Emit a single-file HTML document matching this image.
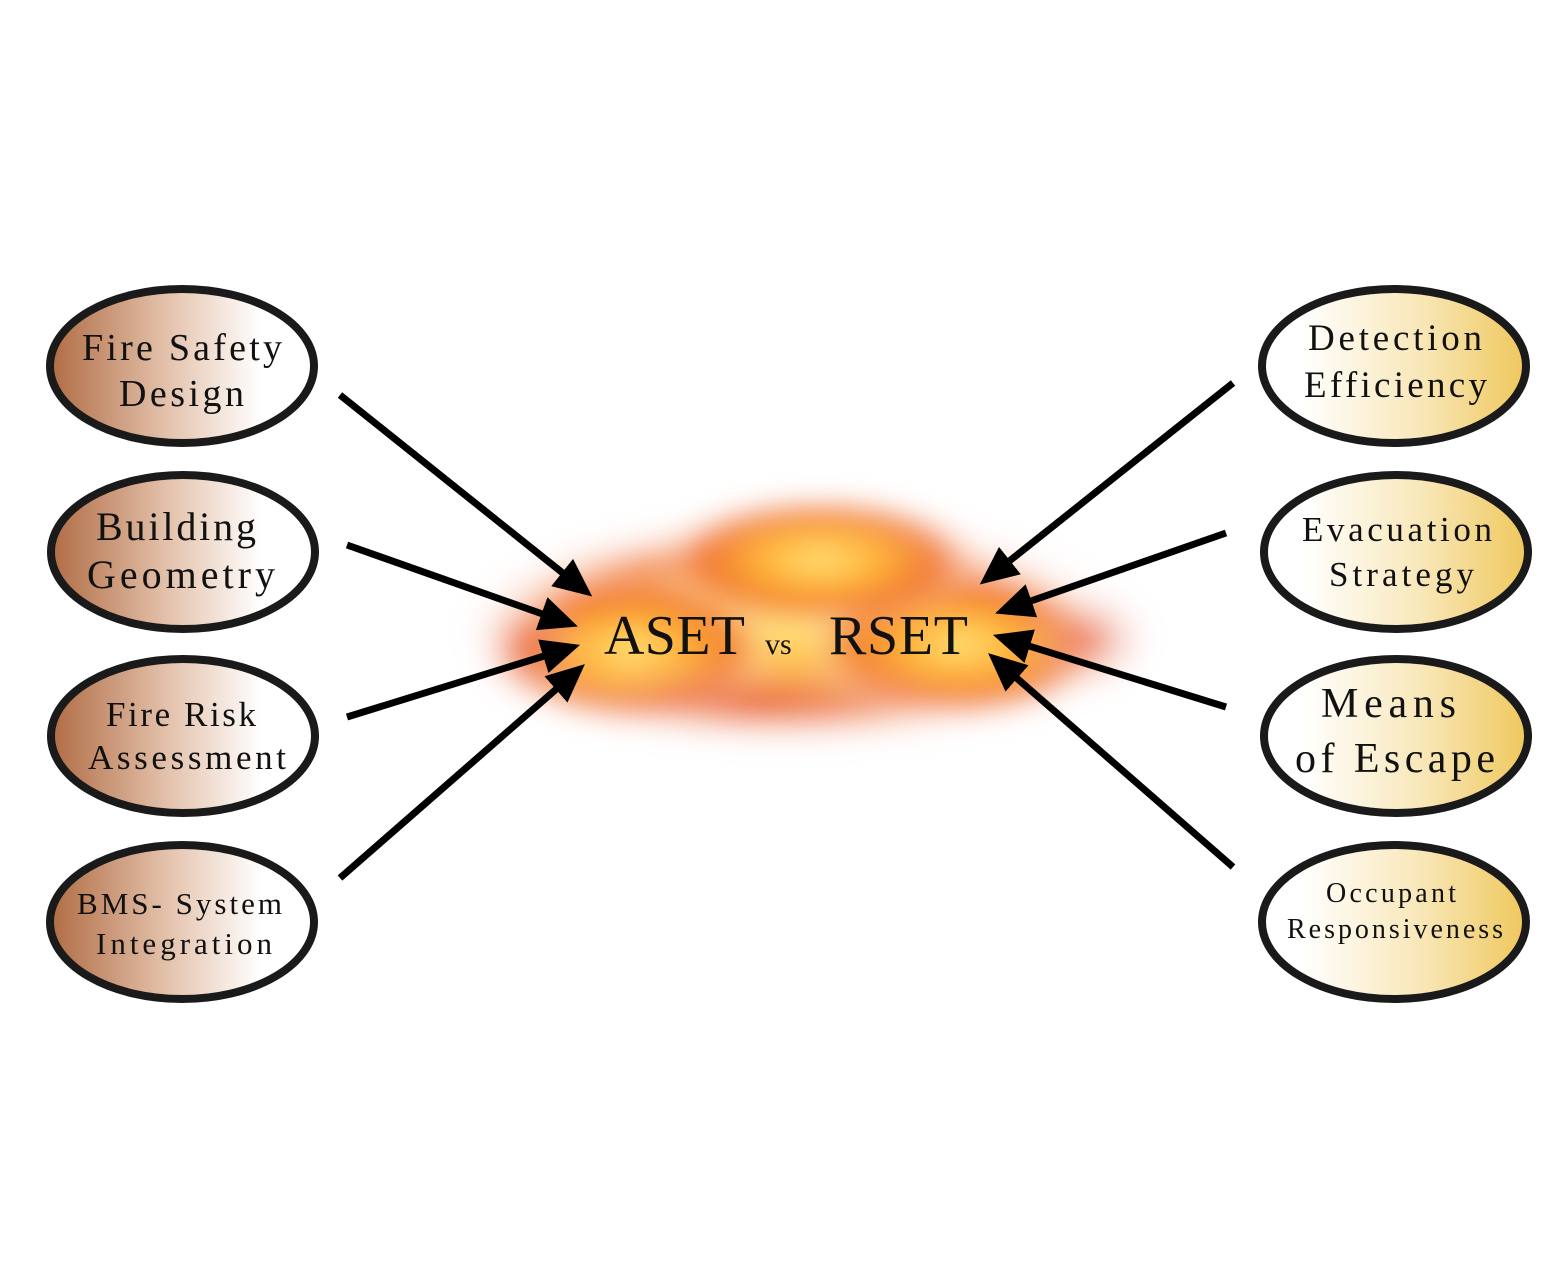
<!DOCTYPE html>
<html><head><meta charset="utf-8"><style>
html,body{margin:0;padding:0;background:#fff;}
svg{display:block;}
text{font-family:"Liberation Serif",serif;fill:#111;}
</style></head><body>
<svg width="1560" height="1280" viewBox="0 0 1560 1280">
<defs>
<linearGradient id="lg" x1="0" y1="0" x2="1" y2="0">
<stop offset="0" stop-color="#b06c44"/><stop offset="0.45" stop-color="#e4c3ad"/><stop offset="0.8" stop-color="#ffffff"/>
</linearGradient>
<linearGradient id="rg" x1="0" y1="0" x2="1" y2="0">
<stop offset="0.15" stop-color="#ffffff"/><stop offset="0.6" stop-color="#f8e7b8"/><stop offset="1" stop-color="#efc75c"/>
</linearGradient>
<radialGradient id="fire1" cx="0.5" cy="0.5" r="0.5">
<stop offset="0" stop-color="#ffe27a"/><stop offset="0.35" stop-color="#ffb43a"/><stop offset="0.7" stop-color="#f0702a" stop-opacity="0.75"/><stop offset="1" stop-color="#ffffff" stop-opacity="0"/>
</radialGradient>
<radialGradient id="fire2" cx="0.5" cy="0.5" r="0.5">
<stop offset="0" stop-color="#e24a2a" stop-opacity="0.6"/><stop offset="1" stop-color="#ffffff" stop-opacity="0"/>
</radialGradient>
<filter id="blur"><feGaussianBlur stdDeviation="12"/></filter>
<marker id="ah" markerWidth="5.5" markerHeight="5" refX="4" refY="2.5" orient="auto" markerUnits="strokeWidth">
<path d="M0,0 L5.5,2.5 L0,5 Z" fill="#000"/>
</marker>
</defs>

<g filter="url(#blur)">
<ellipse cx="800" cy="630" rx="380" ry="140" fill="url(#fire2)"/>
<ellipse cx="790" cy="630" rx="330" ry="115" fill="url(#fire1)"/>
<ellipse cx="630" cy="650" rx="150" ry="80" fill="url(#fire1)"/>
<ellipse cx="960" cy="645" rx="160" ry="80" fill="url(#fire1)"/>
<ellipse cx="820" cy="560" rx="170" ry="70" fill="url(#fire1)"/>
<ellipse cx="1090" cy="640" rx="70" ry="60" fill="url(#fire2)"/>
<ellipse cx="530" cy="650" rx="60" ry="60" fill="url(#fire2)"/>
<ellipse cx="760" cy="700" rx="220" ry="45" fill="url(#fire2)"/>
</g>

<text x="604" y="654"><tspan font-size="56" textLength="141" lengthAdjust="spacing">ASET</tspan><tspan font-size="30" x="765">vs</tspan><tspan font-size="56" x="829" textLength="139" lengthAdjust="spacing">RSET</tspan></text>

<g stroke="#000" stroke-width="7" marker-end="url(#ah)">
<line x1="340" y1="395" x2="584" y2="590"/>
<line x1="347" y1="545" x2="568" y2="623"/>
<line x1="347" y1="717" x2="570" y2="648"/>
<line x1="340" y1="878" x2="577" y2="671"/>
</g>
<g stroke="#000" stroke-width="7" marker-end="url(#ah)">
<line x1="1233" y1="383" x2="988" y2="578"/>
<line x1="1226" y1="533" x2="1005" y2="610"/>
<line x1="1226" y1="707" x2="1003" y2="638"/>
<line x1="1233" y1="867" x2="996" y2="660"/>
</g>

<g stroke="#1a1a1a" stroke-width="8">
<ellipse cx="182" cy="366" rx="132" ry="77" fill="url(#lg)"/>
<ellipse cx="183" cy="552" rx="132" ry="77" fill="url(#lg)"/>
<ellipse cx="183" cy="736" rx="132" ry="77" fill="url(#lg)"/>
<ellipse cx="182" cy="922" rx="132" ry="77" fill="url(#lg)"/>
</g>
<g stroke="#1a1a1a" stroke-width="8">
<ellipse cx="1394" cy="366" rx="132" ry="77" fill="url(#rg)"/>
<ellipse cx="1396" cy="552" rx="132" ry="77" fill="url(#rg)"/>
<ellipse cx="1396" cy="736" rx="132" ry="77" fill="url(#rg)"/>
<ellipse cx="1394" cy="922" rx="132" ry="77" fill="url(#rg)"/>
</g>

<g>
<text x="82" y="360" font-size="38" textLength="200" lengthAdjust="spacing">Fire Safety</text>
<text x="119" y="406" font-size="38" textLength="125" lengthAdjust="spacing">Design</text>
<text x="96" y="540" font-size="40" textLength="160" lengthAdjust="spacing">Building</text>
<text x="87" y="588" font-size="40" textLength="188" lengthAdjust="spacing">Geometry</text>
<text x="106" y="726" font-size="35" textLength="150" lengthAdjust="spacing">Fire Risk</text>
<text x="88" y="769" font-size="35" textLength="198" lengthAdjust="spacing">Assessment</text>
<text x="77" y="914" font-size="31" textLength="205" lengthAdjust="spacing">BMS- System</text>
<text x="96" y="954" font-size="31" textLength="176" lengthAdjust="spacing">Integration</text>
<text x="1308" y="350" font-size="37" textLength="174" lengthAdjust="spacing">Detection</text>
<text x="1304" y="397" font-size="37" textLength="183" lengthAdjust="spacing">Efficiency</text>
<text x="1302" y="541" font-size="35" textLength="190" lengthAdjust="spacing">Evacuation</text>
<text x="1329" y="586" font-size="35" textLength="145" lengthAdjust="spacing">Strategy</text>
<text x="1321" y="717" font-size="42" textLength="135" lengthAdjust="spacing">Means</text>
<text x="1295" y="772" font-size="42" textLength="200" lengthAdjust="spacing">of Escape</text>
<text x="1326" y="902" font-size="28" textLength="130" lengthAdjust="spacing">Occupant</text>
<text x="1287" y="938" font-size="28" textLength="216" lengthAdjust="spacing">Responsiveness</text>
</g>
</svg>
</body></html>
